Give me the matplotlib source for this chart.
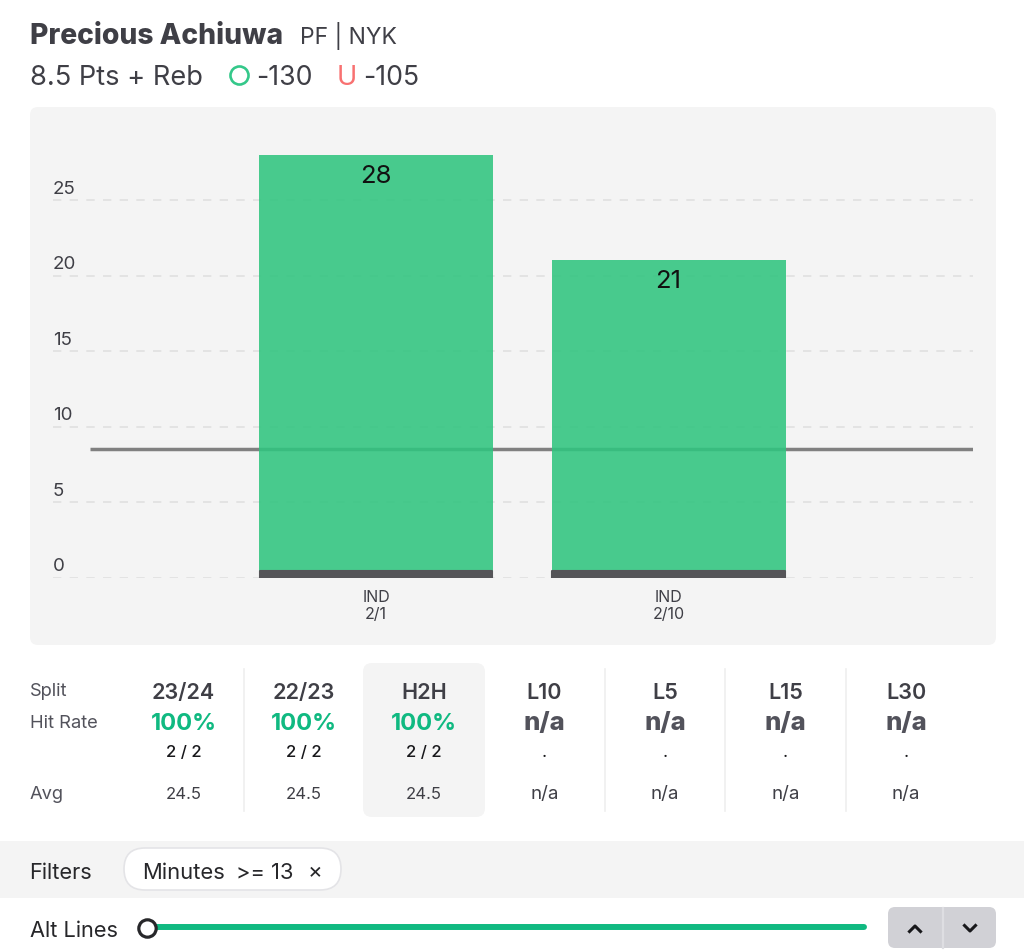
import matplotlib
matplotlib.use("Agg")
import matplotlib.pyplot as plt
from matplotlib.patches import FancyBboxPatch, Rectangle

plt.rcParams['font.family'] = ['Inter', 'DejaVu Sans']

W, H = 1024, 953

# chart data
games = ["IND\n2/1", "IND\n2/10"]
points = [28, 21]
base_strip = [0.45, 0.45]
line_value = 8.5
y_ticks = [0, 5, 10, 15, 20, 25]

# splits table
splits = ["23/24", "22/23", "H2H", "L10", "L5", "L15", "L30"]
hit_rates = ["100%", "100%", "100%", "n/a", "n/a", "n/a", "n/a"]
hit_counts = ["2 / 2", "2 / 2", "2 / 2", ".", ".", ".", "."]
averages = ["24.5", "24.5", "24.5", "n/a", "n/a", "n/a", "n/a"]

DARK = "#3f3f46"
GREEN = "#10b981"
PANEL = "#f4f4f4"

fig = plt.figure(figsize=(W / 100, H / 100), dpi=100, facecolor="white")

# background axes in pixel coords for the page furniture
ui = fig.add_axes([0, 0, 1, 1])
ui.set_xlim(0, W)
ui.set_ylim(H - 1, -1)
ui.axis("off")


def rbox(x0, y0, x1, y1, r, fc, ec="none", lw=0, z=1):
    p = FancyBboxPatch((x0 + r, y0 + r), x1 - x0 - 2 * r, y1 - y0 - 2 * r,
                       boxstyle="round,pad=%f,rounding_size=%f" % (r, r),
                       fc=fc, ec=ec, lw=lw, zorder=z)
    ui.add_patch(p)


# header
ui.text(30, 36, "Precious Achiuwa", fontsize=20.3, fontweight="heavy", color=DARK, va="center")
ui.text(300, 35, "PF | NYK", fontsize=16.5, color=DARK, va="center")
ui.text(30, 77, "8.5 Pts + Reb", fontsize=19.6, color=DARK, va="center")
ui.plot([239], [75], "o", ms=13, mfc="none", mec="#34c88a", mew=1.9)
ui.text(256.5, 77, "-130", fontsize=19.2, color=DARK, va="center")
ui.text(347, 77, "U", fontsize=19.6, color="#f87171", va="center", ha="center")
ui.text(363, 77, "-105", fontsize=19.2, color=DARK, va="center")

# chart panel
rbox(30, 107, 996, 645, 8, PANEL)

ax = fig.add_axes([53 / W, 1 - 578.5 / H, (973 - 53) / W, (578.5 - 107) / H])
ax.patch.set_visible(False)
px_per_game = 292.5
ax.set_xlim((53 - 376) / px_per_game, (973 - 376) / px_per_game)
ax.set_ylim(0, (578.5 - 107) / 15.1)
for s in ax.spines.values():
    s.set_visible(False)

xs = list(range(len(games)))
ax.set_yticks(y_ticks)
ax.set_yticklabels([])
ax.tick_params(axis="y", length=0)
ax.grid(axis="y", color="#e0e0e0", lw=1.2, ls=(0, (5, 5)), zorder=1)
ax.set_axisbelow(True)
for t in y_ticks:
    ax.annotate(str(t), (0, t), xycoords=ax.get_yaxis_transform(), xytext=(0, 7),
                textcoords="offset pixels", fontsize=13.5, color=DARK, va="baseline", ha="left")

ax.set_xticks(xs)
ax.set_xticklabels(games, fontsize=11.5, color=DARK, linespacing=1.22)
ax.tick_params(axis="x", length=0, pad=8)

# threshold line starts a bit in from the labels
ax.plot([(90 - 376) / px_per_game, (973 - 376) / px_per_game], [line_value, line_value],
        color="#808080", lw=2.5, zorder=2, solid_capstyle="butt")
bars = ax.bar(xs, points, width=0.8, color="#30c57f", alpha=0.88, zorder=3)
strips = ax.bar(xs, base_strip, width=0.795, color="#555558", ec="#555558", lw=1.5, zorder=4)
for s in strips:
    s.set_joinstyle("round")
ax.bar_label(bars, labels=[str(v) for v in points], padding=-23, fontsize=18.5, color="#111111", zorder=5)

# splits table
col_x = [183.5, 304, 424, 544.5, 665, 785.5, 906]
ui.text(30, 691, "Split", fontsize=13.2, color="#52525b", va="center")
ui.text(30, 723, "Hit Rate", fontsize=13.2, color="#52525b", va="center")
ui.text(30, 794, "Avg", fontsize=13.2, color="#52525b", va="center")
rbox(363, 663, 485, 817, 9, PANEL)
for sep_x in [244, 605, 725, 846]:
    ui.plot([sep_x, sep_x], [669, 811], color="#efefef", lw=1.2, zorder=2)
for cx, sp, hr, hc, av in zip(col_x, splits, hit_rates, hit_counts, averages):
    ui.text(cx, 692, sp, fontsize=15.5, fontweight="semibold", color=DARK, ha="center", va="center", zorder=3)
    if hr != "n/a":
        ui.text(cx, 723, hr, fontsize=17, fontweight="bold", color=GREEN, ha="center", va="center", zorder=3)
    else:
        ui.text(cx, 723, hr, fontsize=18.5, fontweight="heavy", color="#52525b", ha="center", va="center", zorder=3)
    ui.text(cx, 752, hc, fontsize=12, fontweight="medium", color="#18181b", ha="center", va="center", zorder=3)
    ui.text(cx, 794, av, fontsize=13.5 if av == "n/a" else 12, color=DARK, ha="center", va="center", zorder=3)

# filters band
ui.add_patch(Rectangle((0, 841), W, 57, fc=PANEL, ec="none", zorder=1))
ui.text(29, 872, "Filters", fontsize=15.7, color="#27272a", va="center", zorder=3)
rbox(124, 848, 341, 890, 21, "white", ec="#e4e4e7", lw=1.2, z=2)
ui.text(142, 872, "Minutes", fontsize=15.8, color="#27272a", va="center", zorder=3)
ui.text(236, 872, ">= 13", fontsize=15.8, color="#27272a", va="center", zorder=3)
ui.text(315, 870, "×", fontsize=16, color="#27272a", va="center", ha="center", zorder=3)

# alt lines slider
ui.text(30, 930, "Alt Lines", fontsize=15.7, color="#27272a", va="center", zorder=3)
ui.plot([150, 864], [927, 927], color=GREEN, lw=4.3, solid_capstyle="round", zorder=2)
ui.plot([147], [927.5], "o", ms=12.5, mfc="white", mec="#27272a", mew=2.3, zorder=3)
rbox(888, 907, 996, 948, 7, "#d1d1d6", z=2)
ui.plot([942.5, 942.5], [907.5, 947.5], color="#dedee2", lw=1.6, zorder=3)
ui.plot([909.5, 915, 920.5], [931.5, 926, 931.5], color="#18181b", lw=2.2, zorder=4)
ui.plot([964.5, 970, 975.5], [925.5, 931, 925.5], color="#18181b", lw=2.2, zorder=4)

fig.savefig("out.png", dpi=100)
